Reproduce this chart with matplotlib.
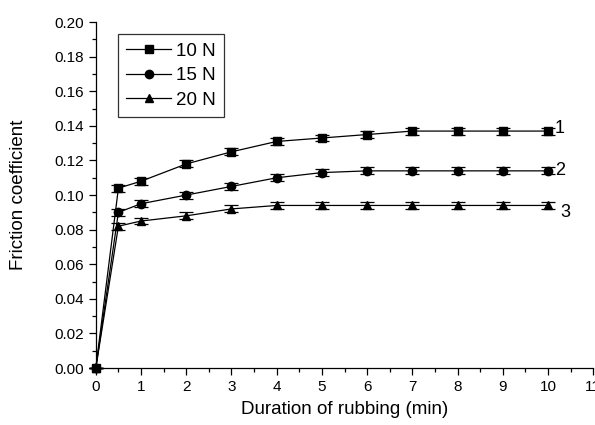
import numpy as np
import matplotlib.pyplot as plt
from matplotlib.ticker import MultipleLocator

plt.rcParams['font.family'] = ['Liberation Sans', 'DejaVu Sans']

# 数据
t = [0, 0.5, 1, 2, 3, 4, 5, 6, 7, 8, 9, 10]
f_10N = [0, 0.104, 0.108, 0.118, 0.125, 0.131, 0.133, 0.135, 0.137, 0.137, 0.137, 0.137]
f_15N = [0, 0.090, 0.095, 0.100, 0.105, 0.110, 0.113, 0.114, 0.114, 0.114, 0.114, 0.114]
f_20N = [0, 0.082, 0.085, 0.088, 0.092, 0.094, 0.094, 0.094, 0.094, 0.094, 0.094, 0.094]
err = [0] + [0.002] * 11
labels = ['10 N', '15 N', '20 N']
curve_ids = ['1', '2', '3']

fig = plt.figure(figsize=(5.95, 4.25), dpi=100)
ax = fig.add_axes([0.161, 0.134, 0.836, 0.814])

series = [f_10N, f_15N, f_20N]
markers = ['s', 'o', '^']
offsets = [(5, 2), (5, 0), (9, -5)]
for y, mk, lab, cid, off in zip(series, markers, labels, curve_ids, offsets):
    ax.errorbar(t, y, yerr=err, fmt='none', ecolor='black', elinewidth=0.9,
                capsize=5, capthick=0.9, clip_on=False)
    ax.plot(t, y, color='black', marker=mk, markersize=6, linewidth=0.9,
            label=lab, clip_on=False)
    ax.annotate(cid, xy=(t[-1], y[-1]), xytext=off, textcoords='offset points',
                fontsize=13, va='center', ha='left')

ax.set_xlim(0, 11)
ax.set_ylim(0, 0.20)
ax.xaxis.set_major_locator(MultipleLocator(1))
ax.xaxis.set_minor_locator(MultipleLocator(0.5))
ax.yaxis.set_major_locator(MultipleLocator(0.02))
ax.yaxis.set_minor_locator(MultipleLocator(0.01))
ax.yaxis.set_major_formatter(plt.FormatStrFormatter('%.2f'))
ax.tick_params(which='major', direction='out', length=5, width=0.9, labelsize=11)
ax.tick_params(which='minor', direction='out', length=3, width=0.9)

for s in ['top', 'right']:
    ax.spines[s].set_visible(False)
for s in ['left', 'bottom']:
    ax.spines[s].set_linewidth(0.9)

ax.set_xlabel('Duration of rubbing (min)', fontsize=13.5, labelpad=5)
ax.set_ylabel('Friction coefficient', fontsize=13.5, labelpad=20)

leg = ax.legend(loc='upper left', bbox_to_anchor=(0.044, 0.965), fontsize=13.5,
                fancybox=False, edgecolor='black', handlelength=2.4, borderpad=0.45,
                labelspacing=0.4, handletextpad=0.25, borderaxespad=0)
leg.get_frame().set_linewidth(0.9)

fig.savefig('out.png', dpi=100)
